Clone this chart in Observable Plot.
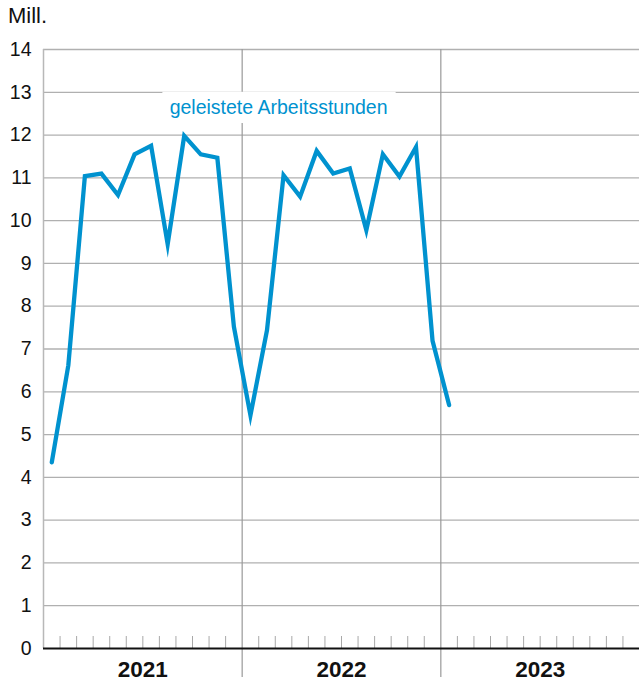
<!DOCTYPE html>
<html>
<head>
<meta charset="utf-8">
<script src="https://cdn.jsdelivr.net/npm/d3@7"></script>
<script src="https://cdn.jsdelivr.net/npm/@observablehq/plot@0.6"></script>
<style>
  body { margin: 0; background: #fff; font-family: "Liberation Sans", Arial, sans-serif; }
  #wrap { position: relative; width: 639px; height: 684px; }
  #unit { position: absolute; left: 8px; top: 3px; font-size: 22px; color: #111; }
</style>
</head>
<body>
<div id="wrap"><div id="unit">Mill.</div></div>
<script>
// Monthly values (Mill. hours), Jan 2021 .. Jan 2023
const years = [2021, 2022, 2023];
const values2021 = [4.35, 6.62, 11.04, 11.1, 10.6, 11.55, 11.75, 9.45, 11.98, 11.55, 11.47, 7.52];
const values2022 = [5.45, 7.44, 11.06, 10.56, 11.63, 11.1, 11.22, 9.78, 11.55, 11.03, 11.72, 7.19];
const values2023 = [5.69];
const yTicks = [0, 1, 2, 3, 4, 5, 6, 7, 8, 9, 10, 11, 12, 13, 14];
const seriesLabel = "geleistete Arbeitsstunden";
const labelPos = {x: 14.2, y: 12.64};
const labelBox = {x1: 7.21, x2: 21.3, y1: 12.27, y2: 13.0};

const allValues = [...values2021, ...values2022, ...values2023];
const data = allValues.map((v, i) => ({m: i + 0.5, v}));
const nMonths = years.length * 12;
const monthTicks = d3.range(1, nMonths).filter(m => m % 12 !== 0);
const yearBounds = d3.range(1, years.length).map(i => i * 12);
const yearLabels = years.map((y, i) => ({m: i * 12 + 6, label: String(y)}));

const color = "#0092cf";

const chart = Plot.plot({
  width: 639,
  height: 684,
  marginLeft: 43,
  marginRight: 0,
  marginTop: 49,
  marginBottom: 36,
  style: {fontFamily: "'Liberation Sans', Arial, sans-serif", background: "transparent"},
  x: {type: "linear", domain: [0, nMonths], axis: null},
  y: {domain: [0, 14], axis: null},
  marks: [
    Plot.ruleY(yTicks.filter(d => d > 0), {stroke: "#b0b0b0", strokeWidth: 1.3}),
    Plot.ruleX([0], {stroke: "#b8b8b8", strokeWidth: 1.5}),
    Plot.ruleX(monthTicks, {stroke: "#a8a8a8", strokeWidth: 1, insetTop: 587}),
    Plot.ruleX(yearBounds, {stroke: "#999", strokeWidth: 1.2, insetBottom: -29}),
    Plot.rect([labelBox], {x1: "x1", x2: "x2", y1: "y1", y2: "y2", fill: "white"}),
    Plot.text([seriesLabel], {x: () => labelPos.x, y: () => labelPos.y, text: d => d, fill: color, fontSize: 19.5}),
    Plot.ruleY([0], {stroke: "#111", strokeWidth: 2}),
    Plot.line(data, {x: "m", y: "v", stroke: color, strokeWidth: 4.3, strokeLinejoin: "miter", strokeMiterlimit: 10}),
    Plot.text(yTicks, {x: 0, y: d => d, text: d => String(d), textAnchor: "end", dx: -12, fontSize: 19.5, fill: "#111"}),
    Plot.text(yearLabels, {x: "m", y: 0, text: "label", dy: 21, fontSize: 22.5, fontWeight: "bold", fill: "#111"})
  ]
});
document.getElementById("wrap").appendChild(chart);
</script>
</body>
</html>
